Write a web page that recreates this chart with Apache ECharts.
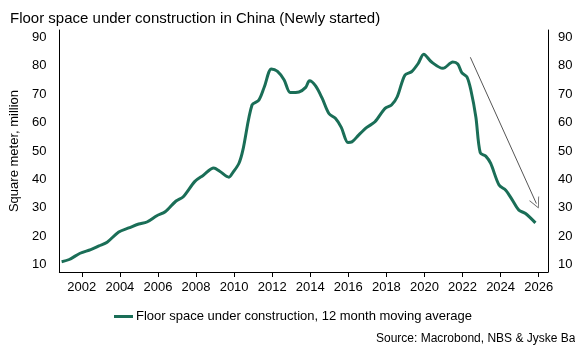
<!DOCTYPE html>
<html>
<head>
<meta charset="utf-8">
<script src="https://cdn.jsdelivr.net/npm/echarts@6/dist/echarts.min.js"></script>
<style>html,body{margin:0;padding:0;background:#fff}#c{width:586px;height:355px}</style>
</head>
<body>
<div id="c"></div>
<script>
const years = [2000.94,2001.34,2001.91,2002.47,2002.90,2003.33,2003.94,2004.46,2004.99,2005.42,2005.94,2006.38,2006.95,2007.33,2007.94,2008.37,2008.93,2009.24,2009.73,2009.94,2010.25,2010.46,2010.94,2011.30,2011.59,2011.96,2012.28,2012.63,2012.95,2013.41,2013.76,2013.96,2014.28,2014.63,2014.98,2015.32,2015.63,2015.98,2016.19,2016.54,2016.97,2017.40,2017.93,2018.27,2018.57,2018.97,2019.32,2019.67,2019.96,2020.36,2020.97,2021.49,2021.75,2021.97,2022.23,2022.44,2022.70,2022.93,2023.22,2023.48,2023.92,2024.27,2024.62,2024.96,2025.31,2025.83];
const values = [11.0,11.8,14.0,15.3,16.6,17.9,21.5,22.9,24.3,25.0,27.2,28.6,32.4,33.9,39.3,41.4,44.0,42.9,40.8,42.5,45.6,50.3,66.2,67.9,72.6,78.9,78.0,75.0,70.6,70.8,72.4,74.7,72.9,68.5,63.2,61.5,58.3,53.0,53.2,55.6,58.3,60.3,65.0,66.2,69.1,76.7,77.9,80.8,84.1,81.4,79.1,81.3,80.6,77.5,76.1,71.4,62.0,49.4,48.2,45.6,38.0,36.2,32.7,29.2,28.0,24.7];
const xTicks = [2002,2004,2006,2008,2010,2012,2014,2016,2018,2020,2022,2024,2026];
const yTicks = [10,20,30,40,50,60,70,80,90];
const arrowStart = [2022.41, 83.0];
const arrowEnd = [2025.88, 31.5];
const titleText = 'Floor space under construction in China (Newly started)';
const seriesName = 'Floor space under construction, 12 month moving average';
const yName = 'Square meter, million';
const sourceText = 'Source: Macrobond, NBS & Jyske Bank';

const font = '"Liberation Sans", Arial, sans-serif';
const chart = echarts.init(document.getElementById('c'));
const yAxisBase = {
  type: 'value', min: 7.4, max: 92.6,
  axisLine: {show: true, lineStyle: {color: '#000', width: 1}},
  axisTick: {show: false},
  splitLine: {show: false},
  axisLabel: {customValues: yTicks, color: '#000', fontSize: 13, fontFamily: font}
};
chart.setOption({
  animation: false,
  title: {text: titleText, left: 5, top: 6, textStyle: {fontSize: 15, fontWeight: 'normal', color: '#000', fontFamily: font}},
  grid: {left: 55, right: 38, top: 30, bottom: 83},
  legend: {
    top: 305, left: 'center', itemWidth: 19, itemHeight: 3, itemGap: 5,
    icon: 'rect',
    textStyle: {fontSize: 13, color: '#000', fontFamily: font, padding: [0,0,0,-2]},
    data: [seriesName]
  },
  xAxis: {
    type: 'value', min: 2000.82, max: 2026.49,
    axisLine: {show: true, onZero: false, lineStyle: {color: '#000', width: 1}},
    axisTick: {show: true, customValues: xTicks, length: 5, lineStyle: {color: '#000'}},
    axisLabel: {customValues: xTicks, formatter: v => String(v), color: '#000', fontSize: 13, fontFamily: font, margin: 9},
    splitLine: {show: false}
  },
  yAxis: [
    Object.assign({}, yAxisBase, {position: 'left', name: yName, nameLocation: 'middle', nameGap: 31, nameRotate: 90,
      nameTextStyle: {fontSize: 13, color: '#000', fontFamily: font}, axisLabel: Object.assign({}, yAxisBase.axisLabel, {margin: 13})}),
    Object.assign({}, yAxisBase, {position: 'right', axisLabel: Object.assign({}, yAxisBase.axisLabel, {margin: 10})})
  ],
  series: [{
    name: seriesName, type: 'line', yAxisIndex: 0,
    data: years.map((y, i) => [y, values[i]]),
    showSymbol: false, smooth: 0.3,
    lineStyle: {color: '#1a6e57', width: 3},
    itemStyle: {color: '#1a6e57'},
    markLine: {
      silent: true, animation: false,
      symbol: ['none', 'path://M5,0 L10,10 L9.2,10 L5,1.6 L0.8,10 L0,10 Z'],
      symbolSize: [11, 11],
      label: {show: false},
      lineStyle: {color: '#555', width: 1, type: 'solid'},
      data: [[{coord: arrowStart}, {coord: arrowEnd}]]
    }
  }],
  graphic: [{
    type: 'text', left: 376, top: 333,
    style: {text: sourceText, fontSize: 12, fill: '#000', fontFamily: font}
  }, {
    type: 'rect', shape: {x: 575, y: 322, width: 11, height: 33}, z: 100,
    style: {fill: '#fff'}
  }]
});
</script>
</body>
</html>
